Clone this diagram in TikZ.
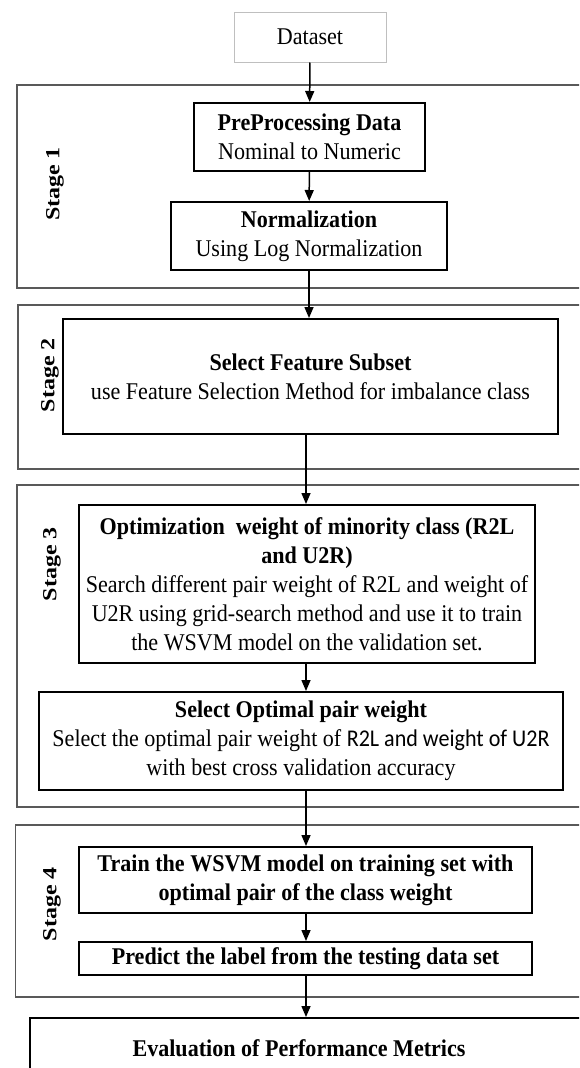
\documentclass[tikz,border=0pt]{standalone}
\usepackage{fontspec}
\setmainfont{Liberation Serif}[FakeStretch=0.92]
\newfontfamily\stagefont{Liberation Serif}[FakeStretch=1.2]
\newfontfamily\calibrifont{Carlito}[FakeStretch=0.92]
\usetikzlibrary{arrows.meta}

\begin{document}
\begin{tikzpicture}[x=1pt,y=-1pt,
	stepbox/.style={draw=black,line width=2pt,align=center,inner sep=0pt,
		font=\fontsize{24}{29}\selectfont},
	stageframe/.style={draw=black!65,line width=1.5pt},
	stagelabel/.style={rotate=90,inner sep=0pt,font=\stagefont\bfseries\fontsize{20}{24}\selectfont},
	flow/.style={line width=1.5pt,-{Triangle[length=11pt,width=9pt]}}]
					\useasboundingbox (0,0) rectangle (579,1068);
					\clip (0,0) rectangle (579,1068);
					
					% stage frames
					\draw[stageframe] (17,85) rectangle (620,288);
					\draw[stageframe] (18,305) rectangle (620,469);
					\draw[stageframe] (17,485) rectangle (620,807);
					\draw[stageframe] (15.5,825) rectangle (620,997);
					
					\path (55,184) node[stagelabel] (s1) {Stage 1};
					\path (50,375) node[stagelabel] (s2) {Stage 2};
					\path (52,564) node[stagelabel] (s3) {Stage 3};
					\path (52,904) node[stagelabel] (s4) {Stage 4};
					
					% boxes
					\path (310,37) node[stepbox,draw=black!25,line width=1pt,minimum width=152pt,minimum height=50pt] (ds) {Dataset};
					\path (309.5,137) node[stepbox,minimum width=231pt,minimum height=68pt] (pre) {\textbf{PreProcessing Data}\\Nominal to Numeric};
					\path (309,236) node[stepbox,minimum width=276pt,minimum height=68pt] (norm) {\textbf{Normalization}\\Using Log Normalization};
					\path (310.5,376.5) node[stepbox,minimum width=495pt,minimum height=115pt] (sf) {\textbf{Select Feature Subset}\\use Feature Selection Method for imbalance class};
					\path (307,584) node[stepbox,minimum width=456pt,minimum height=158pt] (opt) {\textbf{Optimization\ \ weight of minority class (R2L}\\\textbf{and U2R)}\\Search different pair weight of R2L and weight of\\U2R using grid-search method and use it to train\\the WSVM model on the validation set.};
					\path (301,741) node[stepbox,minimum width=524pt,minimum height=98pt] (so) {\textbf{Select Optimal pair weight}\\Select the optimal pair weight of {\calibrifont R2L and weight of U2R}\\with best cross validation accuracy};
					\path (305.5,880) node[stepbox,minimum width=453pt,minimum height=66pt] (tr) {\textbf{Train the WSVM model on training set with}\\\textbf{optimal pair of the class weight}};
					\path (305.5,958.5) node[stepbox,minimum width=453pt,minimum height=33pt] (pr) {\textbf{Predict the label from the testing data set}};
					\path (330,1060) node[stepbox,minimum width=600pt,minimum height=84pt] (evbox) {};
					\path (299,1048) node[inner sep=0pt,font=\fontsize{24}{29}\selectfont] (ev) {\textbf{Evaluation of Performance Metrics}};
					\coordinate (o1) at (306,0);
					
					% arrows
					\draw[flow] (ds) -- (pre);
					\draw[flow] (pre) -- (norm);
					\draw[flow] (norm) -- (sf.north -| norm);
					\draw[flow] (sf.south -| o1) -- (o1 |- opt.north);
					\draw[flow] (opt.south -| o1) -- (o1 |- so.north);
					\draw[flow] (so.south -| o1) -- (o1 |- tr.north);
					\draw[flow] (tr.south -| o1) -- (o1 |- pr.north);
					\draw[flow] (pr.south -| o1) -- (o1 |- evbox.north);
					\end{tikzpicture}
\end{document}
